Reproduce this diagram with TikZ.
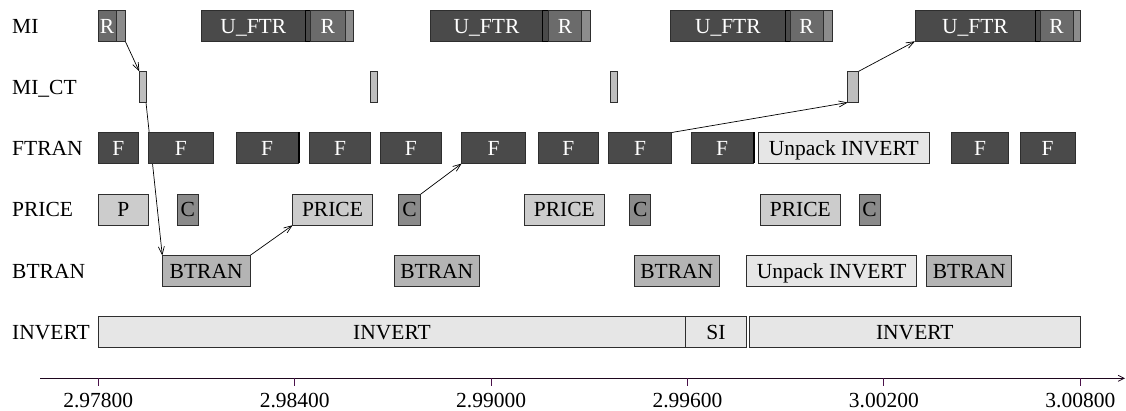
\documentclass[tikz,border=0pt]{standalone}
\usepackage{fontspec}
\setmainfont{Liberation Serif}
\usetikzlibrary{arrows.meta,backgrounds}
\definecolor{cdark}{HTML}{4A4A4A}
\definecolor{crbox}{HTML}{6B6B6B}
\definecolor{clbar}{HTML}{8C8C8C}
\definecolor{cct}{HTML}{BEBEBE}
\definecolor{cprice}{HTML}{CCCCCC}
\definecolor{cc}{HTML}{8A8A8A}
\definecolor{cbtran}{HTML}{B4B4B4}
\definecolor{cinv}{HTML}{E6E6E6}
\definecolor{cborder}{HTML}{2E2E2E}
\definecolor{caxis}{HTML}{1E061E}
\definecolor{ctick}{HTML}{4A124A}
\newcommand\bx[6]{\node[tb,#2,minimum width={(#4-#3)*1pt}] (#1) at ({(#3+#4)/2},#5) {#6};}
\begin{document}
\begin{tikzpicture}[x=1pt,y=-1pt,
  font=\fontsize{21.5}{24}\selectfont,
  tb/.style={draw=cborder, line width=0.8pt, inner sep=0pt, outer sep=0pt,
    minimum height=31pt, text height=14.5pt, text depth=0pt},
  darkbox/.style={fill=cdark, text=white},
  rbox/.style={fill=crbox, text=white},
  lbar/.style={fill=clbar},
  thinbox/.style={fill=cdark, draw=black},
  ctbar/.style={fill=cct},
  pricebox/.style={fill=cprice},
  cbox/.style={fill=cc},
  btranbox/.style={fill=cbtran},
  invbox/.style={fill=cinv},
  edgebar/.style={fill=black, draw=none, minimum height=31pt},
  rowlabel/.style={anchor=base west, inner sep=0pt},
  ticklabel/.style={anchor=base, inner sep=0pt},
  flow/.style={draw=black, line width=0.7pt, -{Straight Barb[length=8pt,width=6pt]}},
  axisline/.style={draw=caxis, line width=0.8pt},
  tickline/.style={draw=ctick, line width=0.9pt},
]
\useasboundingbox (0,0) rectangle (1126,411);

% row labels
\node[rowlabel] (lMI) at (12,33.1) {MI};
\node[rowlabel] (lCT) at (12,94.3) {MI\_CT};
\node[rowlabel] (lFT) at (12,155.3) {FTRAN};
\node[rowlabel] (lPR) at (12,217) {PRICE};
\node[rowlabel] (lBT) at (12,278.3) {BTRAN};
\node[rowlabel] (lIN) at (12,339.5) {INVERT};

% MI row
\def\ym{25.8}
\bx{mR1}{rbox}{98.3}{116}{\ym}{R}
\bx{mL1}{lbar}{116}{125.3}{\ym}{}
\bx{mU2}{darkbox}{201.7}{305}{\ym}{U\_FTR}
\bx{mT2}{thinbox}{305}{310.7}{\ym}{}
\bx{mR2}{rbox}{310.7}{345}{\ym}{R}
\bx{mL2}{lbar}{345}{353.3}{\ym}{}
\bx{mU3}{darkbox}{430.7}{542.3}{\ym}{U\_FTR}
\bx{mT3}{thinbox}{542.3}{548.3}{\ym}{}
\bx{mR3}{rbox}{548.3}{581.7}{\ym}{R}
\bx{mL3}{lbar}{581.7}{590}{\ym}{}
\bx{mU4}{darkbox}{670.7}{785}{\ym}{U\_FTR}
\bx{mT4}{thinbox}{785}{790}{\ym}{}
\bx{mR4}{rbox}{790}{823.3}{\ym}{R}
\bx{mL4}{lbar}{823.3}{832.3}{\ym}{}
\bx{mU5}{darkbox}{915}{1035}{\ym}{U\_FTR}
\bx{mT5}{thinbox}{1035}{1040}{\ym}{}
\bx{mR5}{rbox}{1040}{1073.3}{\ym}{R}
\bx{mL5}{lbar}{1073.3}{1080}{\ym}{}

% MI_CT row
\def\yc{87}
\bx{c1}{ctbar}{139.3}{146}{\yc}{}
\bx{c2}{ctbar}{370}{377.3}{\yc}{}
\bx{c3}{ctbar}{610.7}{617.3}{\yc}{}
\bx{c4}{ctbar}{847.7}{858.3}{\yc}{}

% FTRAN row
\def\yf{148}
\bx{f1}{darkbox}{98.3}{138.3}{\yf}{F}
\bx{f2}{darkbox}{148.3}{213.3}{\yf}{F}
\bx{f3}{darkbox}{236}{298.3}{\yf}{F}
\bx{f3e}{edgebar}{298.3}{300}{\yf}{}
\bx{f4}{darkbox}{309.3}{370.7}{\yf}{F}
\bx{f5}{darkbox}{380}{441.7}{\yf}{F}
\bx{f6}{darkbox}{461.7}{525.7}{\yf}{F}
\bx{f7}{darkbox}{538.3}{598.3}{\yf}{F}
\bx{f8}{darkbox}{608.7}{671.7}{\yf}{F}
\bx{f9}{darkbox}{691}{753.3}{\yf}{F}
\bx{f9e}{edgebar}{753.3}{755}{\yf}{}
\bx{fu}{invbox}{758.3}{929.3}{\yf}{Unpack INVERT}
\bx{f10}{darkbox}{951.7}{1008.3}{\yf}{F}
\bx{f11}{darkbox}{1020}{1075}{\yf}{F}

% PRICE row
\def\yp{209.7}
\bx{p1}{pricebox}{98.3}{148.3}{\yp}{P}
\bx{pc1}{cbox}{177.3}{198.3}{\yp}{C}
\bx{p2}{pricebox}{292.7}{372.3}{\yp}{PRICE}
\bx{pc2}{cbox}{398.3}{420.7}{\yp}{C}
\bx{p3}{pricebox}{524.3}{604.3}{\yp}{PRICE}
\bx{pc3}{cbox}{629.7}{650.7}{\yp}{C}
\bx{p4}{pricebox}{760.7}{840}{\yp}{PRICE}
\bx{pc4}{cbox}{859.3}{880}{\yp}{C}

% BTRAN row
\def\yb{271}
\bx{b1}{btranbox}{162.3}{250}{\yb}{BTRAN}
\bx{b2}{btranbox}{394.3}{479.3}{\yb}{BTRAN}
\bx{b3}{btranbox}{634.3}{719.3}{\yb}{BTRAN}
\bx{bu}{invbox}{746.7}{916.7}{\yb}{Unpack INVERT}
\bx{b4}{btranbox}{926.7}{1011.7}{\yb}{BTRAN}

% INVERT row
\def\yi{332.2}
\bx{i1}{invbox}{98.3}{685.7}{\yi}{INVERT}
\bx{si}{invbox}{685.7}{746}{\yi}{SI}
\bx{i2}{invbox}{749.3}{1080.3}{\yi}{INVERT}

% flow arrows (behind boxes)
\begin{scope}[on background layer]
\draw[flow] (mL1.south east) -- (c1.north west);
\draw[flow] (c1.south east) -- (b1.north west);
\draw[flow] (b1.north east) -- (p2.south west);
\draw[flow] (pc2.north east) -- (f6.south west);
\draw[flow] (f8.north east) -- (c4.south west);
\draw[flow] (c4.north east) -- (mU5.south west);
\end{scope}

% time axis
\coordinate (ax0) at (40,378.3);
\coordinate (ax1) at (1125,378.3);
\draw[axisline, -{Straight Barb[length=6pt,width=6pt]}] (ax0) -- (ax1);
\foreach \i/\lab in {0/2.97800,1/2.98400,2/2.99000,3/2.99600,4/3.00200,5/3.00800}{
  \coordinate (tk\i) at ({98.3+\i*196.4},378.3);
  \draw[tickline] (tk\i) -- ++(0,8);
  \node[ticklabel] (tl\i) at ({98.3+\i*196.4},407.5) {\lab};
}
\end{tikzpicture}
\end{document}
